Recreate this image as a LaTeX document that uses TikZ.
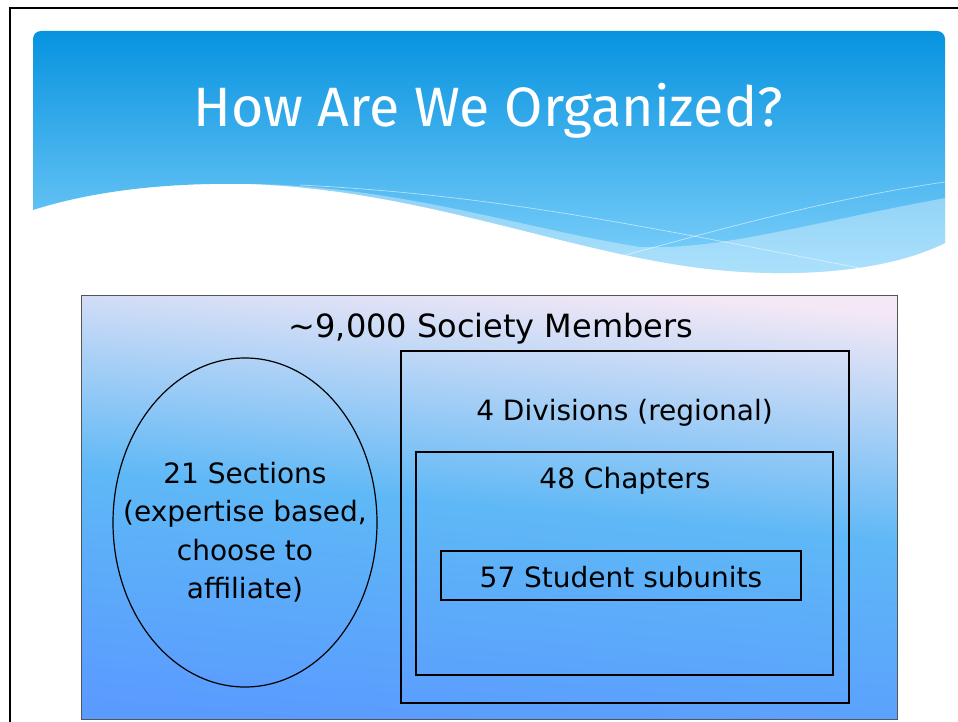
\documentclass[tikz,border=0pt]{standalone}
\usepackage{fontspec}
\setmainfont{DejaVu Sans}
\newfontfamily\titlefont{Fira Sans}
\usetikzlibrary{shapes.geometric}
\definecolor{bantop}{HTML}{0793E0}
\definecolor{banbot}{HTML}{82D2FB}
\definecolor{cbot}{HTML}{5A9BFF}
\definecolor{cmid}{HTML}{5EB8F6}
\definecolor{ctop}{HTML}{F4E8F6}
\definecolor{boxedge}{HTML}{555555}
\pgfdeclareverticalshading{orgbox}{100bp}{color(0bp)=(cbot); color(25bp)=(cbot); color(50bp)=(cmid); color(75bp)=(ctop); color(100bp)=(ctop)}
\tikzset{
  framebox/.style={draw=black, line width=1.3pt, fill=none, rectangle, inner sep=0pt},
  bodytext/.style={font=\fontsize{28}{38.5}\selectfont, text=black, inner sep=0pt, anchor=base},
}
\def\bannerpath{(33,210) -- (33,39) arc[start angle=180, end angle=270, radius=8] -- (937,31) arc[start angle=270, end angle=360, radius=8] -- (945,243) .. controls (880,275) and (780,278) .. (700,268) .. controls (560,250) and (420,190) .. (250,184) .. controls (150,182) and (80,195) .. (33,210) -- cycle}
\begin{document}
\begin{tikzpicture}[x=1pt,y=-1pt]
\useasboundingbox (0,0) rectangle (958,722);
\fill[white] (0,0) rectangle (958,722);
% slide frame
\draw[line width=2.3pt, black] (10,740) -- (10,8) -- (975,8);
% banner
\shade[top color=bantop, bottom color=banbot] \bannerpath;
\begin{scope}
  \clip \bannerpath;
  \fill[white, opacity=0.35] (945,198) .. controls (800,225) and (720,250) .. (640,247) .. controls (520,228) and (400,186) .. (250,184) .. controls (420,190) and (560,250) .. (700,268) .. controls (780,278) and (880,275) .. (945,243) -- cycle;
  \draw[white, opacity=0.55, line width=0.7pt] (300,185) .. controls (500,195) and (650,228) .. (860,268);
  \draw[white, opacity=0.55, line width=0.7pt] (600,262) .. controls (700,235) and (820,200) .. (945,182);
\end{scope}
\node[font=\titlefont\fontsize{55.5}{60}\selectfont, text=white, anchor=base, inner sep=0pt] (title) at (488,127) {How Are We Organized?};
% outer box
\node[rectangle, draw=boxedge, line width=0.9pt, shading=orgbox, shading angle=-5, minimum width=816pt, minimum height=424pt, inner sep=0pt] (society) at (489,507) {};
\node[bodytext, font=\fontsize{32}{38}\selectfont] (societytext) at (491,337) {\char`\~9,000 Society Members};
% sections ellipse
\node[ellipse, draw=black, line width=1.2pt, minimum width=264pt, minimum height=329pt, inner sep=0pt] (sections) at (245,522.5) {};
\node[font=\fontsize{28}{38.5}\selectfont, align=center, inner sep=0pt, anchor=center] (sectext) at (245,532) {21 Sections\\(expertise based,\\choose to\\affiliate)};
% divisions / chapters / students
\node[framebox, minimum width=448pt, minimum height=352pt] (divisions) at (625,527) {};
\node[bodytext] (divtext) at (624.5,420) {4 Divisions (regional)};
\node[framebox, minimum width=417pt, minimum height=223pt] (chapters) at (624.5,563.5) {};
\node[bodytext] (chaptext) at (625,488) {48 Chapters};
\node[framebox, minimum width=360pt, minimum height=49pt] (students) at (621,575.5) {};
\node[bodytext] (studtext) at (621,587) {57 Student subunits};
\end{tikzpicture}
\end{document}
